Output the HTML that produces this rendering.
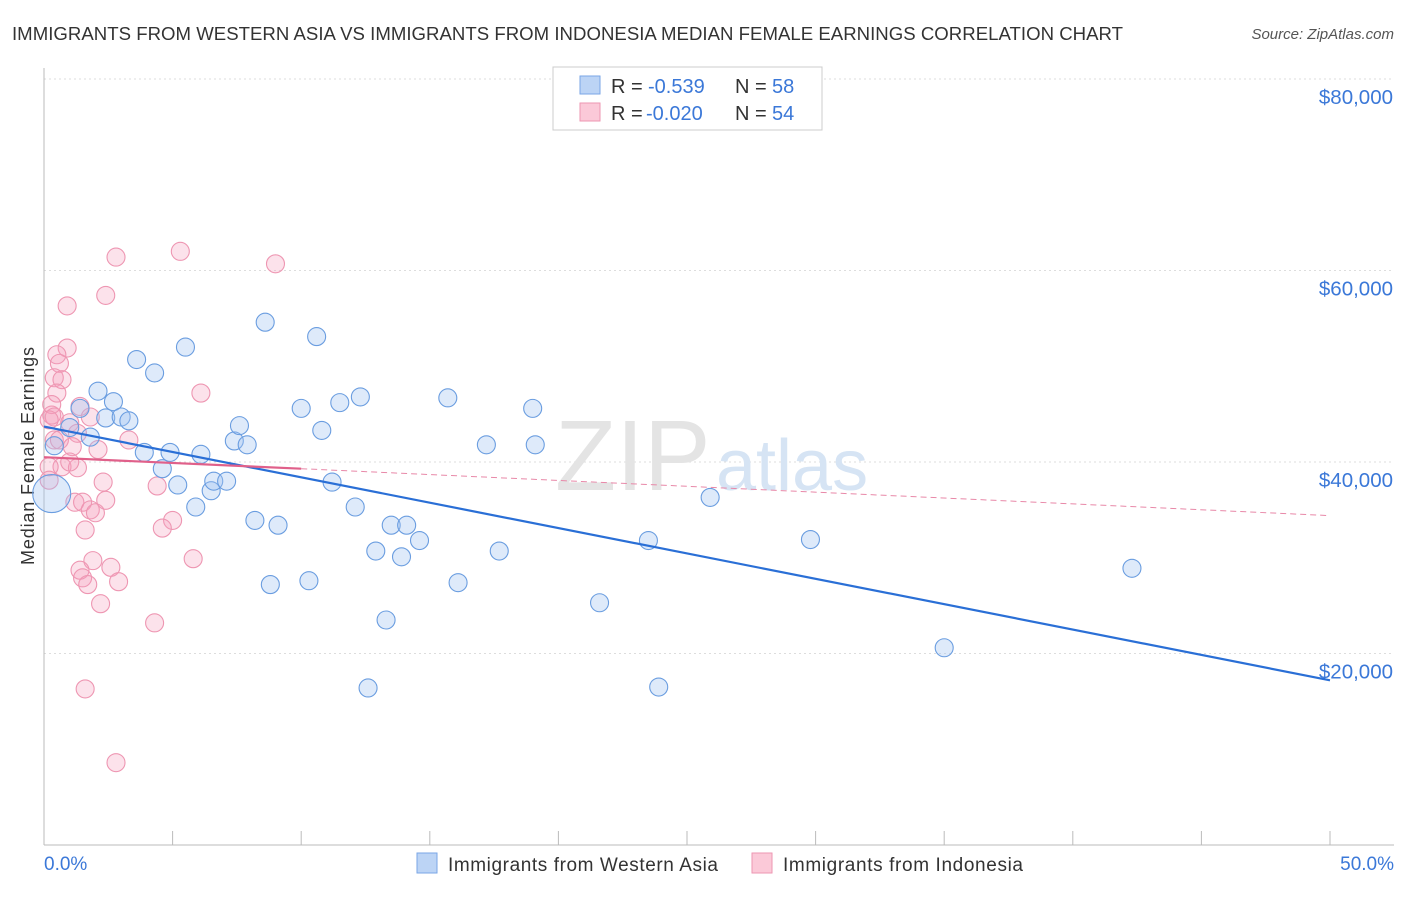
<!DOCTYPE html>
<html><head><meta charset="utf-8"><style>
body{margin:0;background:#fff;font-family:"Liberation Sans",sans-serif;}
svg text{font-family:"Liberation Sans",sans-serif;}
</style></head><body>
<svg width="1406" height="892">
<text x="12" y="40" font-size="18.6" fill="#333" textLength="1111">IMMIGRANTS FROM WESTERN ASIA VS IMMIGRANTS FROM INDONESIA MEDIAN FEMALE EARNINGS CORRELATION CHART</text>
<text x="1394" y="39" font-size="15" fill="#555" font-style="italic" text-anchor="end">Source: ZipAtlas.com</text>
<g id="grid"></g>
<text x="555" y="490" font-size="100" fill="#e4e4e4" font-family="Liberation Serif">ZIP</text>
<text x="716" y="490" font-size="72" fill="#d6e4f4">atlas</text>
<line x1="44" y1="68" x2="44" y2="845" stroke="#bbb"/>
<line x1="44" y1="845" x2="1394" y2="845" stroke="#bbb"/>
<g id="xticks"></g>
<g id="ylabels"></g>
<text x="34" y="456" font-size="18" fill="#333" transform="rotate(-90 34 456)" text-anchor="middle" textLength="218">Median Female Earnings</text>
<text x="44" y="870" font-size="19" fill="#3b78d8">0.0%</text>
<text x="1394" y="870" font-size="19" fill="#3b78d8" text-anchor="end">50.0%</text>
<g id="pink"></g>
<g id="blue"></g>
<g id="lines"></g>
<g>
<rect x="553" y="67" width="269" height="63" fill="#fff" stroke="#ccc"/>
<rect x="580" y="76" width="20" height="18" fill="#bcd4f5" stroke="#7aa6e6"/>
<rect x="580" y="103" width="20" height="18" fill="#fbc9d8" stroke="#ee96b2"/>
<text x="611" y="93" font-size="20" fill="#333">R =</text><text x="648" y="93" font-size="20" fill="#3b78d8">-0.539</text>
<text x="735" y="93" font-size="20" fill="#333">N =</text><text x="772" y="93" font-size="20" fill="#3b78d8">58</text>
<text x="611" y="120" font-size="20" fill="#333">R =</text><text x="646" y="120" font-size="20" fill="#3b78d8">-0.020</text>
<text x="735" y="120" font-size="20" fill="#333">N =</text><text x="772" y="120" font-size="20" fill="#3b78d8">54</text>
</g>
<g>
<rect x="417" y="853" width="20" height="20" fill="#bcd4f5" stroke="#7aa6e6"/>
<text x="448" y="871" font-size="19" fill="#333" textLength="270">Immigrants from Western Asia</text>
<rect x="752" y="853" width="20" height="20" fill="#fbc9d8" stroke="#ee96b2"/>
<text x="783" y="871" font-size="19" fill="#333" textLength="240">Immigrants from Indonesia</text>
</g>
</svg>
<script>
const yTicks=[20000,40000,60000,80000];
const yTickLabels=["$20,000","$40,000","$60,000","$80,000"];
const xTicks=[0,5,10,15,20,25,30,35,40,45,50];
const blueX=[0.3,0.4,1.0,1.4,1.8,2.1,2.4,2.7,3.0,3.3,3.6,3.9,4.3,4.6,4.9,5.2,5.5,5.9,6.1,6.5,6.6,7.1,7.4,7.6,7.9,8.2,8.6,8.8,9.1,10.0,10.3,10.6,10.8,11.2,11.5,12.1,12.3,12.6,12.9,13.3,13.5,13.9,14.1,14.6,15.7,16.1,17.2,17.7,19.0,19.1,21.6,23.5,23.9,25.9,29.8,35.0,42.3];
const blueY=[36.7,41.7,43.6,45.6,42.6,47.4,44.6,46.3,44.7,44.3,50.7,41.0,49.3,39.3,41.0,37.6,52.0,35.3,40.8,37.0,38.0,38.0,42.2,43.8,41.8,33.9,54.6,27.2,33.4,45.6,27.6,53.1,43.3,37.9,46.2,35.3,46.8,16.4,30.7,23.5,33.4,30.1,33.4,31.8,46.7,27.4,41.8,30.7,45.6,41.8,25.3,31.8,16.5,36.3,31.9,20.6,28.9];
const pinkX=[0.3,0.4,2.4,0.9,0.9,0.5,0.6,0.4,0.7,0.5,6.1,0.3,1.4,1.8,0.4,1.0,0.2,3.3,1.3,2.1,0.6,1.1,0.7,1.3,1.0,0.2,2.3,4.4,0.2,1.2,1.5,2.4,1.8,2.0,5.0,4.6,1.6,5.8,1.9,2.6,1.4,1.5,1.7,2.9,2.2,4.3,2.8,5.3,9.0,1.6,2.8];
const pinkY=[44.9,42.3,57.4,56.3,51.9,51.2,50.3,48.8,48.6,47.2,47.2,46.0,45.8,44.7,44.7,44.1,44.4,42.3,43.0,41.3,42.3,41.6,39.5,39.4,40.0,39.5,37.9,37.5,38.1,35.8,35.8,36.0,35.0,34.7,33.9,33.1,32.9,29.9,29.7,29.0,28.7,27.9,27.2,27.5,25.2,23.2,61.4,62.0,60.7,16.3,8.6];
const blueLine=[[0,43.7],[50,17.2]];
const pinkLine=[[0,40.5],[10,39.3]];
const pinkDash=[[10,39.3],[50,34.4]];
const X=v=>44+v/50*1286, Y=v=>845-v/80*766;
const NS="http://www.w3.org/2000/svg";
function mk(t,a,p){const e=document.createElementNS(NS,t);for(const k in a)e.setAttribute(k,a[k]);p.appendChild(e);return e;}
const grid=document.getElementById('grid'),yl=document.getElementById('ylabels'),xt=document.getElementById('xticks');
yTicks.forEach((v,i)=>{const l=mk('line',{x1:44,x2:1394,y1:Y(v/1000),y2:Y(v/1000),stroke:'#ddd','stroke-dasharray':'2,3'},grid);


const t=mk('text',{x:1393,y:Y(v/1000)+25,'font-size':20.5,fill:'#3b78d8','text-anchor':'end'},yl);t.textContent=yTickLabels[i];

});
xTicks.forEach(v=>{const l=mk('line',{x1:X(v),x2:X(v),y1:831,y2:845,stroke:'#bbb'},xt);

});
const pg=document.getElementById('pink'),bg=document.getElementById('blue');
pinkX.forEach((x,i)=>{const c=mk('circle',{cx:X(x),cy:Y(pinkY[i]),r:9,fill:'rgba(246,160,190,0.3)',stroke:'#ee96b2','stroke-width':1.1},pg);

});
blueX.forEach((x,i)=>{const c=mk('circle',{cx:X(x),cy:Y(blueY[i]),r:i==0?19:9,fill:'rgba(160,196,240,0.35)',stroke:'#6a9de0','stroke-width':1.1},bg);

});
const lg=document.getElementById('lines');
let l=mk('line',{x1:X(blueLine[0][0]),y1:Y(blueLine[0][1]),x2:X(blueLine[1][0]),y2:Y(blueLine[1][1]),stroke:'#2a6fd6','stroke-width':2.2},lg);


l=mk('line',{x1:X(pinkLine[0][0]),y1:Y(pinkLine[0][1]),x2:X(pinkLine[1][0]),y2:Y(pinkLine[1][1]),stroke:'#e0608a','stroke-width':2.2},lg);


l=mk('line',{x1:X(pinkDash[0][0]),y1:Y(pinkDash[0][1]),x2:X(pinkDash[1][0]),y2:Y(pinkDash[1][1]),stroke:'#e888a8','stroke-width':1,'stroke-dasharray':'6,4'},lg);


</script>
</body></html>
